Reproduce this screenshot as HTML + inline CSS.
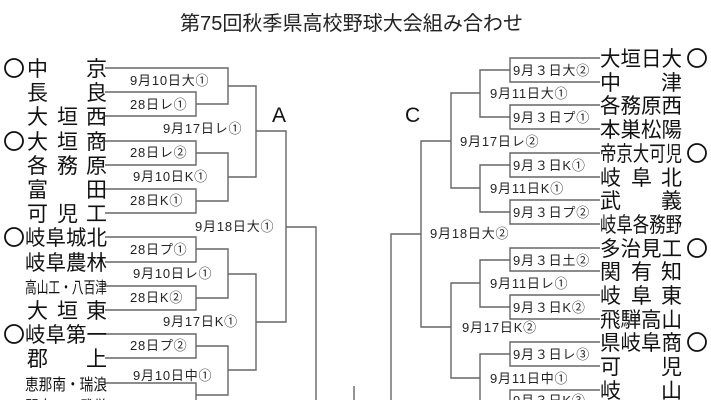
<!DOCTYPE html>
<html><head><meta charset="utf-8"><style>
html,body{margin:0;padding:0;background:#fff;}
svg{display:block;}
.n{font-family:"Liberation Sans","Noto Sans CJK JP",sans-serif;font-size:21px;fill:#111;}
.s{font-family:"Liberation Sans","Noto Sans CJK JP",sans-serif;font-size:13px;letter-spacing:0.8px;fill:#222;}
.t{font-family:"Liberation Sans","Noto Sans CJK JP",sans-serif;font-size:20px;fill:#222;}
</style></head><body>
<svg width="711" height="400" viewBox="0 0 711 400" xmlns="http://www.w3.org/2000/svg">
<text class="t" x="180" y="30" textLength="343" lengthAdjust="spacingAndGlyphs">第75回秋季県高校野球大会組み合わせ</text>
<g fill="none" stroke="#666" stroke-width="1.4">
<polyline points="105,68 228,68 228,104 196,104"/>
<polyline points="105,92 196,92 196,116 105,116"/>
<polyline points="105,141 196,141 196,165 105,165"/>
<polyline points="105,189 196,189 196,213 105,213"/>
<polyline points="196,153 228,153 228,201 196,201"/>
<polyline points="228,86 256,86 256,177 228,177"/>
<polyline points="105,237 196,237 196,262 105,262"/>
<polyline points="105,286 196,286 196,310 105,310"/>
<polyline points="196,249 228,249 228,298 196,298"/>
<polyline points="105,334 196,334 196,358 105,358"/>
<polyline points="105,383 196,383 196,407 105,407"/>
<polyline points="196,346 228,346 228,395 196,395"/>
<polyline points="228,274 256,274 256,370 228,370"/>
<polyline points="256,131 286,131 286,322 256,322"/>
<polyline points="286,227 316,227 316,400"/>
<line x1="354" y1="386" x2="354" y2="400"/>
<polyline points="600,58 510,58 510,82 600,82"/>
<polyline points="600,105 510,105 510,129 600,129"/>
<polyline points="510,70 480,70 480,117 510,117"/>
<polyline points="600,153 510,153 510,177 600,177"/>
<polyline points="600,200 510,200 510,224 600,224"/>
<polyline points="510,165 480,165 480,212 510,212"/>
<polyline points="480,93 451,93 451,188 480,188"/>
<polyline points="600,248 510,248 510,271 600,271"/>
<polyline points="600,295 510,295 510,319 600,319"/>
<polyline points="510,260 480,260 480,307 510,307"/>
<polyline points="600,342 510,342 510,366 600,366"/>
<polyline points="600,390 510,390 510,413 600,413"/>
<polyline points="510,354 480,354 480,402 510,402"/>
<polyline points="480,283 451,283 451,378 480,378"/>
<polyline points="451,141 421,141 421,327 451,327"/>
<polyline points="421,234 391,234 391,400"/>
</g>
<g fill="none" stroke="#111" stroke-width="1.8">
<circle cx="14" cy="68" r="9"/><circle cx="14" cy="141" r="9"/><circle cx="14" cy="237" r="9"/><circle cx="14" cy="334" r="9"/>
<circle cx="697" cy="58" r="9"/><circle cx="697" cy="153" r="9"/><circle cx="697" cy="248" r="9"/><circle cx="697" cy="342" r="9"/>
</g>
<text class="n" x="272" y="122" font-size="22">A</text>
<text class="n" x="405" y="122" font-size="22">C</text>
<g class="n">
<text x="27" y="76">中</text><text x="86" y="76">京</text>
<text x="27" y="100">長</text><text x="86" y="100">良</text>
<text x="27" y="124">大</text><text x="57" y="124">垣</text><text x="86" y="124">西</text>
<text x="27" y="149">大</text><text x="57" y="149">垣</text><text x="86" y="149">商</text>
<text x="27" y="173">各</text><text x="57" y="173">務</text><text x="86" y="173">原</text>
<text x="27" y="197">富</text><text x="86" y="197">田</text>
<text x="27" y="221">可</text><text x="57" y="221">児</text><text x="86" y="221">工</text>
<text x="25" y="245" textLength="82" lengthAdjust="spacingAndGlyphs">岐阜城北</text>
<text x="25" y="270" textLength="82" lengthAdjust="spacingAndGlyphs">岐阜農林</text>
<text x="25" y="293" font-size="16" textLength="82" lengthAdjust="spacingAndGlyphs">高山工・八百津</text>
<text x="27" y="318">大</text><text x="57" y="318">垣</text><text x="86" y="318">東</text>
<text x="25" y="342" textLength="82" lengthAdjust="spacingAndGlyphs">岐阜第一</text>
<text x="27" y="366">郡</text><text x="86" y="366">上</text>
<text x="25" y="390" font-size="16" textLength="82" lengthAdjust="spacingAndGlyphs">恵那南・瑞浪</text>
<text x="25" y="412" font-size="16" textLength="82" lengthAdjust="spacingAndGlyphs">関商工・武儀</text>
</g>
<g class="s">
<text x="130" y="85">9月10日大①</text>
<text x="130" y="109">28日レ①</text>
<text x="163" y="133">9月17日レ①</text>
<text x="130" y="157">28日レ②</text>
<text x="133" y="181">9月10日K①</text>
<text x="130" y="205">28日K①</text>
<text x="195" y="231">9月18日大①</text>
<text x="130" y="254">28日プ①</text>
<text x="133" y="278">9月10日レ①</text>
<text x="130" y="302">28日K②</text>
<text x="163" y="326">9月17日K①</text>
<text x="130" y="350">28日プ②</text>
<text x="133" y="380">9月10日中①</text>
</g>
<g class="n">
<text x="600" y="66" textLength="82" lengthAdjust="spacingAndGlyphs">大垣日大</text>
<text x="600" y="90">中</text><text x="661" y="90">津</text>
<text x="600" y="113" textLength="82" lengthAdjust="spacingAndGlyphs">各務原西</text>
<text x="600" y="137" textLength="82" lengthAdjust="spacingAndGlyphs">本巣松陽</text>
<text x="600" y="161" textLength="82" lengthAdjust="spacingAndGlyphs">帝京大可児</text>
<text x="600" y="185">岐</text><text x="631" y="185">阜</text><text x="661" y="185">北</text>
<text x="600" y="208">武</text><text x="661" y="208">義</text>
<text x="600" y="232" textLength="82" lengthAdjust="spacingAndGlyphs">岐阜各務野</text>
<text x="600" y="256" textLength="82" lengthAdjust="spacingAndGlyphs">多治見工</text>
<text x="600" y="279">関</text><text x="631" y="279">有</text><text x="661" y="279">知</text>
<text x="600" y="303">岐</text><text x="631" y="303">阜</text><text x="661" y="303">東</text>
<text x="600" y="327" textLength="82" lengthAdjust="spacingAndGlyphs">飛騨高山</text>
<text x="600" y="350" textLength="82" lengthAdjust="spacingAndGlyphs">県岐阜商</text>
<text x="600" y="374">可</text><text x="661" y="374">児</text>
<text x="600" y="398">岐</text><text x="661" y="398">山</text>
</g>
<g class="s">
<text x="513" y="75">9月３日大②</text>
<text x="490" y="98">9月11日大①</text>
<text x="513" y="122">9月３日プ①</text>
<text x="460" y="146">9月17日レ②</text>
<text x="513" y="170">9月３日K①</text>
<text x="490" y="193">9月11日K①</text>
<text x="513" y="217">9月３日プ②</text>
<text x="430" y="238">9月18日大②</text>
<text x="513" y="265">9月３日土②</text>
<text x="490" y="288">9月11日レ①</text>
<text x="513" y="312">9月３日K②</text>
<text x="462" y="332">9月17日K②</text>
<text x="513" y="359">9月３日レ③</text>
<text x="490" y="383">9月11日中①</text>
<text x="513" y="405">9月３日K③</text>
</g>
</svg>
</body></html>
